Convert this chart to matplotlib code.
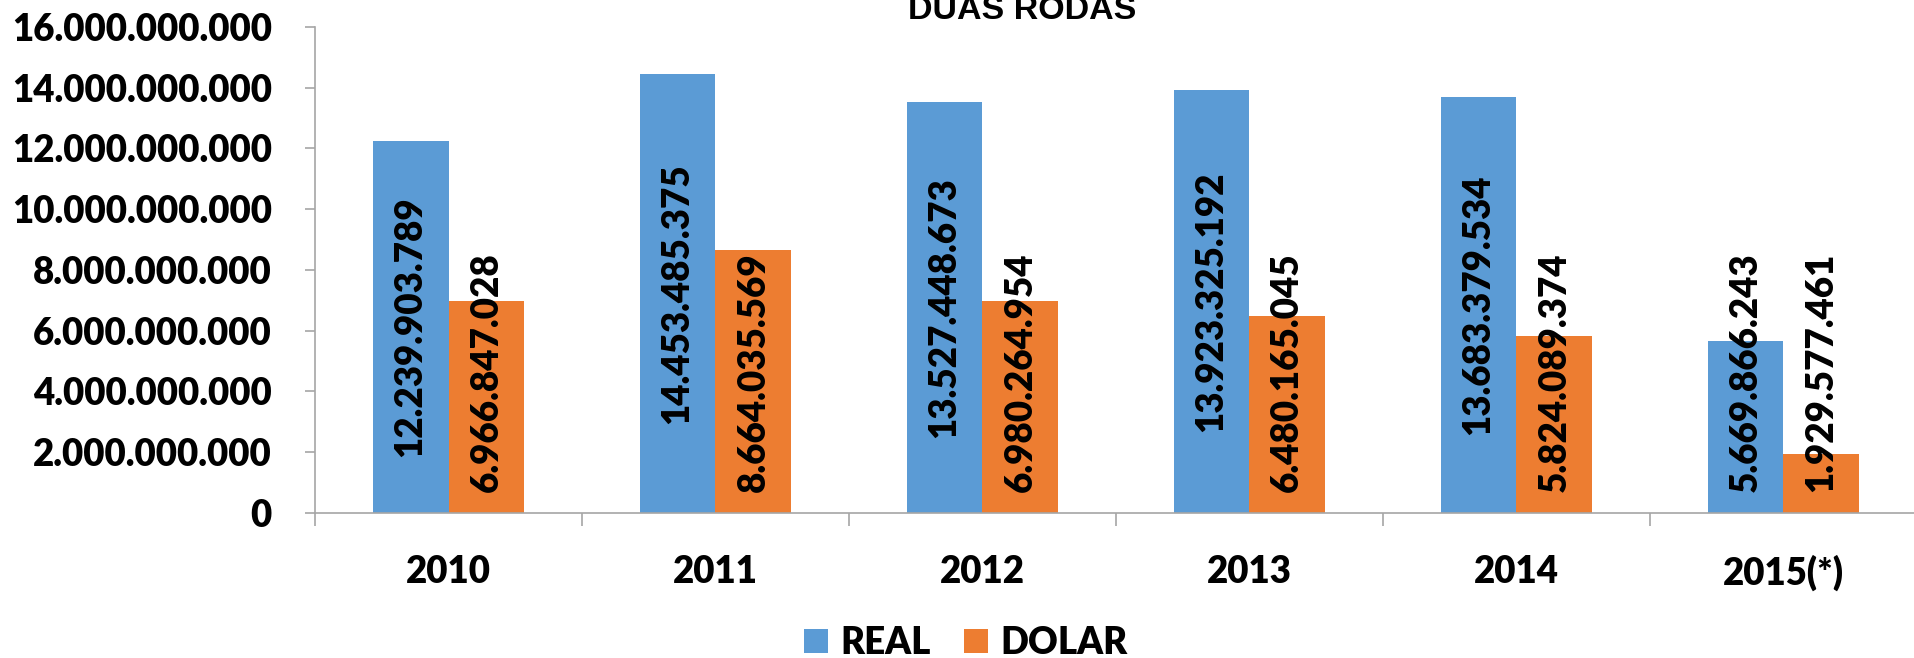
import numpy as np
import matplotlib
matplotlib.use('Agg')
import matplotlib.pyplot as plt
from matplotlib.ticker import FuncFormatter, MultipleLocator, FixedLocator

years = ['2010', '2011', '2012', '2013', '2014', '2015(*)']
real = [12239903789, 14453485375, 13527448673, 13923325192, 13683379534, 5669866243]
dolar = [6966847028, 8664035569, 6980264954, 6480165045, 5824089374, 1929577461]

plt.rcParams['font.family'] = ['Lato', 'DejaVu Sans']
plt.rcParams['font.weight'] = 'heavy'

blue = '#5B9BD5'
orange = '#ED7D31'
gray = '#A6A6A6'
W = 'heavy'


def fmt(v, pos=None):
    return '{:,}'.format(int(round(v))).replace(',', '.')


fig = plt.figure(figsize=(19.15, 6.58), dpi=100)
ax = fig.add_axes([0.1645, 0.2204, 0.8365, 0.7386])

x = np.arange(len(years))
w = 0.284
ax.bar(x - w / 2, real, w, color=blue, label='REAL')
ax.bar(x + w / 2, dolar, w, color=orange, label='DOLAR')

# data labels: centred in the bar, pushed up when the bar is too short
base = 0.68e9
half = 4.0e9
for xs, vals in [(x - w / 2, real), (x + w / 2, dolar)]:
    for xi, v in zip(xs, vals):
        if v / 2 > base + half:
            ax.text(xi, v / 2, fmt(v), rotation=90, ha='center', va='center',
                    fontsize=26.5, fontweight=W, color='black')
        else:
            ax.text(xi, base, fmt(v), rotation=90, ha='center', va='bottom',
                    fontsize=26.5, fontweight=W, color='black')

ax.set_xlim(-0.5, len(years) - 0.5)
ax.set_ylim(0, 16e9)
ax.yaxis.set_major_locator(MultipleLocator(2e9))
ax.yaxis.set_major_formatter(FuncFormatter(fmt))
ax.set_xticks(x)
ax.set_xticklabels(years)
ax.xaxis.set_minor_locator(FixedLocator(np.arange(-0.5, len(years), 1.0)))

for s in ['top', 'right']:
    ax.spines[s].set_visible(False)
for s in ['left', 'bottom']:
    ax.spines[s].set_color(gray)
    ax.spines[s].set_linewidth(1.2)

ax.tick_params(axis='y', length=7, color=gray, width=1.2, pad=24, labelsize=26.4)
ax.tick_params(axis='x', which='major', length=0, pad=30, labelsize=26.4)
ax.tick_params(axis='x', which='minor', length=9, color=gray, width=1.2)
for lab in ax.get_xticklabels() + ax.get_yticklabels():
    lab.set_fontweight(W)

fig.text(0.534, 0.971, 'DUAS RODAS', ha='center', va='baseline',
         fontsize=24.5, fontweight='bold', family=['Liberation Sans', 'DejaVu Sans'])

fig.legend(loc='center', bbox_to_anchor=(0.5045, 0.0228), ncol=2, frameon=False,
           handlelength=0.65, handleheight=0.65, handletextpad=0.35,
           columnspacing=0.9, prop={'weight': W, 'size': 26.4})

fig.savefig('out.png', dpi=100)
